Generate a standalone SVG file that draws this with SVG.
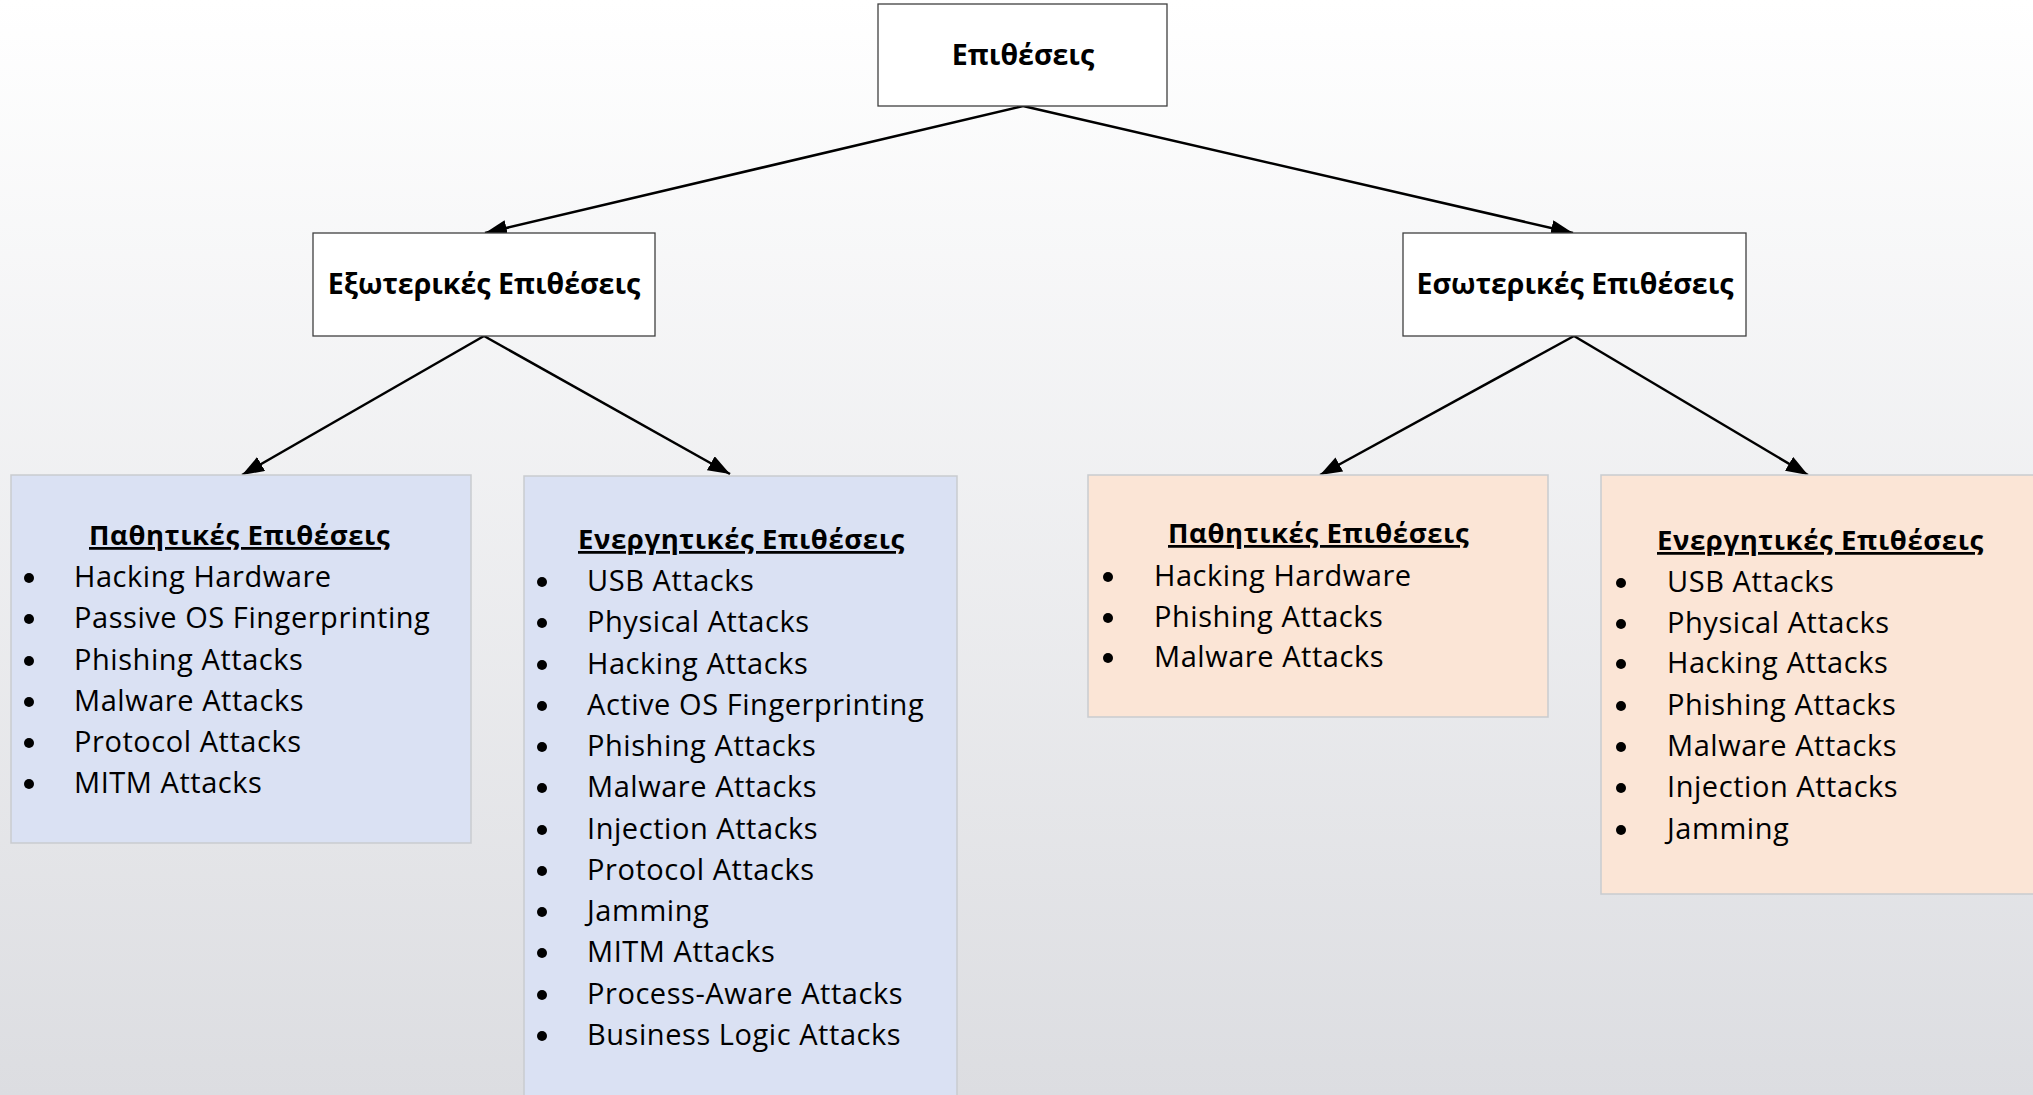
<svg xmlns="http://www.w3.org/2000/svg" width="2033" height="1095" viewBox="0 0 2033 1095">
<defs>
<linearGradient id="bg" x1="0" y1="0" x2="0" y2="1">
<stop offset="0" stop-color="#ffffff"/>
<stop offset="1" stop-color="#dcdde1"/>
</linearGradient>
<marker id="arr" markerUnits="userSpaceOnUse" markerWidth="22" markerHeight="16" refX="22" refY="8" orient="auto">
<path d="M0,0 L22,8 L0,16 z" fill="#000"/>
</marker>
<style>
.wbox{fill:#ffffff;stroke:#404040;stroke-width:1.3}
.blue{fill:#dae1f3;stroke:#c9cbcf;stroke-width:1.5}
.peach{fill:#fbe5d6;stroke:#c9cbcf;stroke-width:1.5}
.head{font-family:"Open Sans","Noto Sans","DejaVu Sans",sans-serif;font-weight:bold;font-size:28.5px;fill:#000;text-anchor:middle}
.title{font-family:"Open Sans","Noto Sans","DejaVu Sans",sans-serif;font-weight:bold;font-size:27.5px;letter-spacing:0.6px;fill:#000;text-decoration:underline}
.item{font-family:"Open Sans","Noto Sans","DejaVu Sans",sans-serif;font-size:29px;letter-spacing:0.55px;fill:#000}
.bul{fill:#000}
.conn line{stroke:#000;stroke-width:2.5;marker-end:url(#arr)}
</style>
</defs>
<rect x="0" y="0" width="2033" height="1095" fill="url(#bg)"/>

<g id="connectors" class="conn">
<line x1="1023" y1="106" x2="485" y2="233"/>
<line x1="1023" y1="106" x2="1573" y2="233"/>
<line x1="484" y1="336" x2="242" y2="475"/>
<line x1="484" y1="336" x2="730" y2="474"/>
<line x1="1574" y1="336" x2="1320" y2="475"/>
<line x1="1574" y1="336" x2="1808" y2="475"/>
</g>

<g id="root">
<rect class="wbox" x="878" y="4" width="289" height="102"/>
<text class="head" x="1023" y="65">Επιθέσεις</text>
</g>

<g id="external">
<rect class="wbox" x="313" y="233" width="342" height="103"/>
<text class="head" x="484" y="294">Εξωτερικές Επιθέσεις</text>
</g>

<g id="internal">
<rect class="wbox" x="1403" y="233" width="343" height="103"/>
<text class="head" x="1575" y="294">Εσωτερικές Επιθέσεις</text>
</g>

<g id="ext-passive">
<rect class="blue" x="11" y="475" width="460" height="368"/>
<text class="title" x="89" y="545">Παθητικές Επιθέσεις</text>
<circle class="bul" cx="29" cy="578" r="5"/><text class="item" x="74" y="587">Hacking Hardware</text>
<circle class="bul" cx="29" cy="619" r="5"/><text class="item" x="74" y="628">Passive OS Fingerprinting</text>
<circle class="bul" cx="29" cy="661" r="5"/><text class="item" x="74" y="670">Phishing Attacks</text>
<circle class="bul" cx="29" cy="702" r="5"/><text class="item" x="74" y="711">Malware Attacks</text>
<circle class="bul" cx="29" cy="743" r="5"/><text class="item" x="74" y="752">Protocol Attacks</text>
<circle class="bul" cx="29" cy="784" r="5"/><text class="item" x="74" y="793">MITM Attacks</text>
</g>

<g id="ext-active">
<rect class="blue" x="524" y="476" width="433" height="640"/>
<text class="title" x="578" y="549">Ενεργητικές Επιθέσεις</text>
<circle class="bul" cx="542" cy="582" r="5"/><text class="item" x="587" y="591">USB Attacks</text>
<circle class="bul" cx="542" cy="623" r="5"/><text class="item" x="587" y="632">Physical Attacks</text>
<circle class="bul" cx="542" cy="665" r="5"/><text class="item" x="587" y="674">Hacking Attacks</text>
<circle class="bul" cx="542" cy="706" r="5"/><text class="item" x="587" y="715">Active OS Fingerprinting</text>
<circle class="bul" cx="542" cy="747" r="5"/><text class="item" x="587" y="756">Phishing Attacks</text>
<circle class="bul" cx="542" cy="788" r="5"/><text class="item" x="587" y="797">Malware Attacks</text>
<circle class="bul" cx="542" cy="830" r="5"/><text class="item" x="587" y="839">Injection Attacks</text>
<circle class="bul" cx="542" cy="871" r="5"/><text class="item" x="587" y="880">Protocol Attacks</text>
<circle class="bul" cx="542" cy="912" r="5"/><text class="item" x="587" y="921">Jamming</text>
<circle class="bul" cx="542" cy="953" r="5"/><text class="item" x="587" y="962">MITM Attacks</text>
<circle class="bul" cx="542" cy="995" r="5"/><text class="item" x="587" y="1004">Process-Aware Attacks</text>
<circle class="bul" cx="542" cy="1036" r="5"/><text class="item" x="587" y="1045">Business Logic Attacks</text>
</g>

<g id="int-passive">
<rect class="peach" x="1088" y="475" width="460" height="242"/>
<text class="title" x="1168" y="543">Παθητικές Επιθέσεις</text>
<circle class="bul" cx="1108" cy="577" r="5"/><text class="item" x="1154" y="586">Hacking Hardware</text>
<circle class="bul" cx="1108" cy="618" r="5"/><text class="item" x="1154" y="627">Phishing Attacks</text>
<circle class="bul" cx="1108" cy="658" r="5"/><text class="item" x="1154" y="667">Malware Attacks</text>
</g>

<g id="int-active">
<rect class="peach" x="1601" y="475" width="440" height="419"/>
<text class="title" x="1657" y="550">Ενεργητικές Επιθέσεις</text>
<circle class="bul" cx="1621" cy="583" r="5"/><text class="item" x="1667" y="592">USB Attacks</text>
<circle class="bul" cx="1621" cy="624" r="5"/><text class="item" x="1667" y="633">Physical Attacks</text>
<circle class="bul" cx="1621" cy="664" r="5"/><text class="item" x="1667" y="673">Hacking Attacks</text>
<circle class="bul" cx="1621" cy="706" r="5"/><text class="item" x="1667" y="715">Phishing Attacks</text>
<circle class="bul" cx="1621" cy="747" r="5"/><text class="item" x="1667" y="756">Malware Attacks</text>
<circle class="bul" cx="1621" cy="788" r="5"/><text class="item" x="1667" y="797">Injection Attacks</text>
<circle class="bul" cx="1621" cy="830" r="5"/><text class="item" x="1667" y="839">Jamming</text>
</g>
</svg>
